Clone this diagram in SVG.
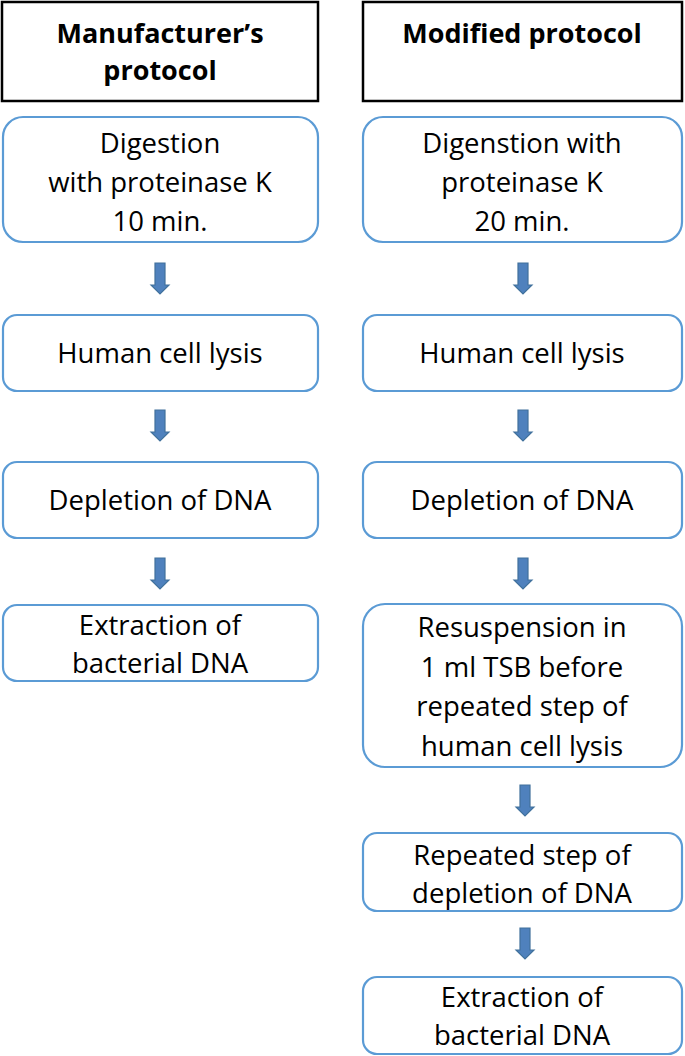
<svg xmlns="http://www.w3.org/2000/svg" width="685" height="1056" viewBox="0 0 685 1056">
<defs>
<style>
.hdr{fill:#fff;stroke:#000;stroke-width:2.5}
.box{fill:#fff;stroke:#5B9BD5;stroke-width:2.2}
.t{font-family:"Open Sans","Liberation Sans",sans-serif;font-size:27.5px;fill:#000;text-anchor:middle}
.b{font-weight:bold;font-size:27px}
.arr{fill:#4F81BD;stroke:#41719C;stroke-width:1.2}
</style>
<path id="ar" d="M-5,0 H5 V22 H9 L0,31 L-9,22 H-5 Z"/>
</defs>
<rect width="685" height="1056" fill="#fff"/>
<g id="h1"><rect class="hdr" x="2" y="2" width="316" height="99"/>
<text class="t b" x="160" y="43">Manufacturer’s</text><text class="t b" x="160" y="80">protocol</text></g>
<g id="h2"><rect class="hdr" x="363" y="2" width="319" height="99"/>
<text class="t b" x="522" y="43">Modified protocol</text></g>

<g id="l1"><rect class="box" x="3" y="117" width="315" height="125" rx="20"/>
<text class="t" x="160" y="153">Digestion</text><text class="t" x="160" y="192">with proteinase K</text><text class="t" x="160" y="231">10 min.</text></g>
<g id="l2"><rect class="box" x="3" y="315" width="315" height="76" rx="14"/>
<text class="t" x="160" y="363">Human cell lysis</text></g>
<g id="l3"><rect class="box" x="3" y="462" width="315" height="76" rx="14"/>
<text class="t" x="160" y="510">Depletion of DNA</text></g>
<g id="l4"><rect class="box" x="3" y="605" width="315" height="76" rx="14"/>
<text class="t" x="160" y="635">Extraction of</text><text class="t" x="160" y="673">bacterial DNA</text></g>

<g id="r1"><rect class="box" x="363" y="117" width="319" height="125" rx="20"/>
<text class="t" x="522" y="153">Digenstion with</text><text class="t" x="522" y="192">proteinase K</text><text class="t" x="522" y="231">20 min.</text></g>
<g id="r2"><rect class="box" x="363" y="315" width="319" height="76" rx="14"/>
<text class="t" x="522" y="363">Human cell lysis</text></g>
<g id="r3"><rect class="box" x="363" y="462" width="319" height="76" rx="14"/>
<text class="t" x="522" y="510">Depletion of DNA</text></g>
<g id="r4"><rect class="box" x="363" y="604" width="319" height="163" rx="22"/>
<text class="t" x="522" y="637">Resuspension in</text><text class="t" x="522" y="677">1 ml TSB before</text><text class="t" x="522" y="716">repeated step of</text><text class="t" x="522" y="756">human cell lysis</text></g>
<g id="r5"><rect class="box" x="363" y="833" width="319" height="78" rx="14"/>
<text class="t" x="522" y="865">Repeated step of</text><text class="t" x="522" y="903">depletion of DNA</text></g>
<g id="r6"><rect class="box" x="363" y="977" width="319" height="77" rx="14"/>
<text class="t" x="522" y="1007">Extraction of</text><text class="t" x="522" y="1045">bacterial DNA</text></g>

<g id="connectors">
<use href="#ar" class="arr" x="160" y="263"/>
<use href="#ar" class="arr" x="160" y="410"/>
<use href="#ar" class="arr" x="160" y="558"/>
<use href="#ar" class="arr" x="523" y="263"/>
<use href="#ar" class="arr" x="523" y="410"/>
<use href="#ar" class="arr" x="523" y="558"/>
<use href="#ar" class="arr" x="525" y="785"/>
<use href="#ar" class="arr" x="525" y="928"/>
</g>
</svg>
